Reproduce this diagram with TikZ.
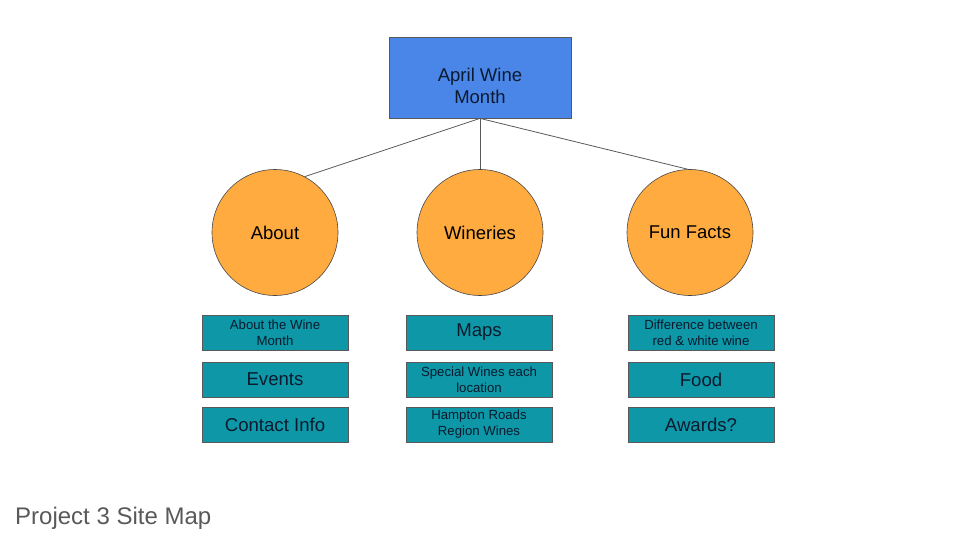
\documentclass[tikz,border=0pt]{standalone}
\usepackage{fontspec}
\setmainfont{Liberation Sans}
\definecolor{topblue}{HTML}{4A86E8}
\definecolor{circorange}{HTML}{FFAB40}
\definecolor{boxteal}{HTML}{0E97A6}
\definecolor{edgegray}{HTML}{595959}
\definecolor{txtdark}{HTML}{0B1A2E}
\definecolor{captiongray}{HTML}{595959}
\begin{document}
\begin{tikzpicture}[x=1pt,y=-1pt,
  topbox/.style={draw=edgegray,fill=topblue,line width=0.8pt,minimum width=182pt,minimum height=81pt,inner sep=0pt},
  toptext/.style={inner sep=0pt,align=center,font=\fontsize{18.5}{22}\selectfont,text=txtdark},
  circ/.style={circle,draw=edgegray!80!black,fill=circorange,line width=0.6pt,minimum size=126pt,inner sep=0pt,font=\fontsize{18.5}{22}\selectfont,text=black},
  leaf/.style={draw=edgegray,fill=boxteal,line width=0.8pt,minimum width=146pt,minimum height=35pt,inner sep=0pt,align=center,text=txtdark},
  small/.style={leaf,font=\fontsize{13.2}{16}\selectfont},
  big/.style={leaf,font=\fontsize{18.6}{22}\selectfont},
  conn/.style={draw=edgegray,line width=0.8pt}]
\useasboundingbox (0,0) rectangle (960,540);
\node[topbox] (top) at (480,77.5) {};
\node[toptext] (toplbl) at (480,85.5) {April Wine\\Month};
\node[circ] (about) at (275,232.5) {About};
\node[circ] (win) at (480,232.5) {Wineries};
\node[circ] (fun) at (690,232.5) {Fun Facts};
\draw[conn] (top.south) -- (about.62);
\draw[conn] (top.south) -- (win.north);
\draw[conn] (top.south) -- (fun.92);
% left column
\node[small] (a1) at (275,332.5) {About the Wine\\Month};
\node[big] (a2) at (275,379.5) {Events};
\node[big] (a3) at (275,424.5) {Contact Info};
% middle column
\node[big] (w1) at (479,332.5) {Maps};
\node[small] (w2) at (479,379.5) {Special Wines each\\location};
\node[small] (w3) at (479,424.5) {Hampton Roads\\Region Wines};
% right column
\node[small] (f1) at (701,332.5) {Difference between\\red \& white wine};
\node[big] (f2) at (701,379.5) {Food};
\node[big] (f3) at (701,424.5) {Awards?};
\node[anchor=base west,inner sep=0pt,text=captiongray,font=\fontsize{24}{28}\selectfont] (cap) at (15,524) {Project 3 Site Map};
\end{tikzpicture}
\end{document}
